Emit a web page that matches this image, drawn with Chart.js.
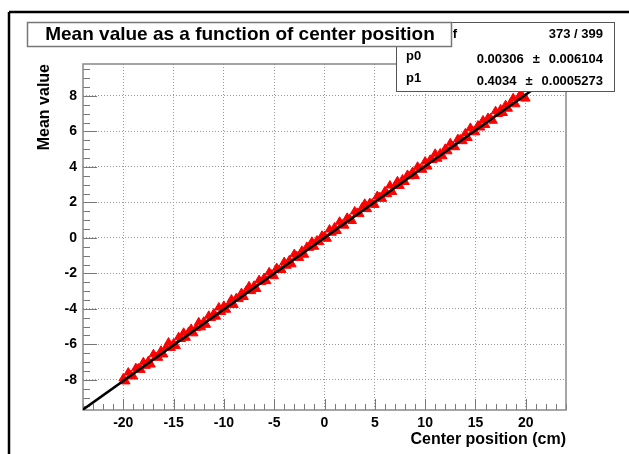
<!DOCTYPE html>
<html>
<head>
<meta charset="utf-8">
<script src="https://cdn.jsdelivr.net/npm/chart.js@4.4.1/dist/chart.umd.min.js"></script>
<style>
  html, body { margin: 0; padding: 0; background: #fff; }
  #wrap { width: 629px; height: 454px; }
</style>
</head>
<body>
<div id="wrap"><canvas id="profile" width="629" height="454"></canvas></div>
<script>
// profile bins: center position (cm) and mean value in each bin
const positions = [
  -20, -19.75, -19.5, -19.25, -19, -18.75, -18.5, -18.25,
  -18, -17.75, -17.5, -17.25, -17, -16.75, -16.5, -16.25,
  -16, -15.75, -15.5, -15.25, -15, -14.75, -14.5, -14.25,
  -14, -13.75, -13.5, -13.25, -13, -12.75, -12.5, -12.25,
  -12, -11.75, -11.5, -11.25, -11, -10.75, -10.5, -10.25,
  -10, -9.75, -9.5, -9.25, -9, -8.75, -8.5, -8.25,
  -8, -7.75, -7.5, -7.25, -7, -6.75, -6.5, -6.25,
  -6, -5.75, -5.5, -5.25, -5, -4.75, -4.5, -4.25,
  -4, -3.75, -3.5, -3.25, -3, -2.75, -2.5, -2.25,
  -2, -1.75, -1.5, -1.25, -1, -0.75, -0.5, -0.25,
  0, 0.25, 0.5, 0.75, 1, 1.25, 1.5, 1.75,
  2, 2.25, 2.5, 2.75, 3, 3.25, 3.5, 3.75,
  4, 4.25, 4.5, 4.75, 5, 5.25, 5.5, 5.75,
  6, 6.25, 6.5, 6.75, 7, 7.25, 7.5, 7.75,
  8, 8.25, 8.5, 8.75, 9, 9.25, 9.5, 9.75,
  10, 10.25, 10.5, 10.75, 11, 11.25, 11.5, 11.75,
  12, 12.25, 12.5, 12.75, 13, 13.25, 13.5, 13.75,
  14, 14.25, 14.5, 14.75, 15, 15.25, 15.5, 15.75,
  16, 16.25, 16.5, 16.75, 17, 17.25, 17.5, 17.75,
  18, 18.25, 18.5, 18.75, 19, 19.25, 19.5, 19.75,
  20
];
const meanValues = [
  -7.92, -8.09, -7.59, -7.75, -7.81, -7.34, -7.36, -7.44,
  -7.01, -7.21, -6.94, -7.14, -6.56, -6.71, -6.76, -6.36,
  -6.57, -6.17, -5.90, -6.20, -5.95, -6.10, -5.60, -5.70,
  -5.35, -5.63, -5.30, -5.13, -5.38, -5.08, -4.76, -5.04,
  -4.72, -4.90, -4.39, -4.52, -4.26, -4.44, -3.92, -4.18,
  -3.83, -4.05, -3.75, -3.47, -3.78, -3.39, -3.45, -3.11,
  -3.33, -2.95, -2.73, -3.00, -2.70, -2.88, -2.38, -2.48,
  -2.26, -2.44, -1.94, -2.07, -2.16, -1.70, -1.80, -1.81,
  -1.36, -1.57, -1.27, -1.49, -0.91, -1.03, -1.13, -0.73,
  -0.95, -0.51, -0.56, -0.22, -0.50, -0.15, -0.24, 0.12,
  0.10, -0.05, 0.47, 0.29, 0.59, 0.39, 0.91, 0.76,
  0.69, 1.13, 1.07, 0.95, 1.49, 1.41, 1.34, 1.72,
  1.92, 1.62, 1.96, 1.94, 1.86, 2.36, 2.30, 2.20,
  2.62, 2.46, 2.95, 2.59, 2.93, 3.19, 2.93, 3.29,
  3.15, 3.55, 3.47, 3.71, 3.49, 4.01, 3.90, 3.84,
  4.30, 4.02, 4.40, 4.38, 4.74, 4.46, 4.76, 4.60,
  5.02, 4.88, 5.33, 5.17, 5.11, 5.57, 5.55, 5.45,
  5.89, 5.63, 6.20, 6.01, 5.95, 6.33, 6.22, 6.62,
  6.36, 6.76, 6.74, 6.60, 7.14, 6.98, 7.24, 7.04,
  7.48, 7.28, 7.61, 7.87, 7.53, 7.87, 8.13, 7.91,
  7.85
];

const xTickValues = [-20, -15, -10, -5, 0, 5, 10, 15, 20];
const yTickValues = [-8, -6, -4, -2, 0, 2, 4, 6, 8];

// linear fit pol1: p0 + p1*x
const fitP0 = 0.00306;
const fitP1 = 0.4034;
const fitRange = [-24, 24];

const statsLabels = ["\u03C7\u00B2 / ndf", "p0", "p1"];
const statsValues = [["373 / 399"], ["0.00306", "0.006104"], ["0.4034", "0.0005273"]];
const plotTitle = "Mean value as a function of center position";

const FONT = '"Liberation Sans", Arial, Helvetica, sans-serif';

const points = positions.map((x, i) => ({ x: x, y: meanValues[i] }));
const fitLine = fitRange.map(x => ({ x: x, y: fitP0 + fitP1 * x }));

function seg(ctx, x1, y1, x2, y2) {
  ctx.beginPath();
  ctx.moveTo(x1, y1);
  ctx.lineTo(x2, y2);
  ctx.stroke();
}

const rootStyle = {
  id: 'rootStyle',
  beforeDraw(chart) {
    const ctx = chart.ctx;
    ctx.save();
    ctx.fillStyle = '#fff';
    ctx.fillRect(0, 0, chart.width, chart.height);
    ctx.restore();
  },
  beforeDatasetsDraw(chart) {
    const { ctx, chartArea: a, scales: { x, y } } = chart;
    ctx.save();
    ctx.strokeStyle = '#777';
    ctx.lineWidth = 1;
    // minor / major ticks along x, every 1 cm
    for (let v = -24; v <= 24; v++) {
      const px = Math.round(x.getPixelForValue(v)) + 0.5;
      seg(ctx, px, a.bottom, px, a.bottom - (v % 5 === 0 ? 11 : 6));
    }
    // ticks along y, every 0.5
    for (let k = -19; k <= 19; k++) {
      const py = Math.round(y.getPixelForValue(k / 2)) + 0.5;
      seg(ctx, a.left, py, a.left + (k % 4 === 0 ? 14 : 7), py);
    }
    // frame
    ctx.strokeStyle = '#888';
    ctx.lineWidth = 1.5;
    ctx.strokeRect(a.left, a.top, a.right - a.left, a.bottom - a.top);
    ctx.restore();
  },
  afterDraw(chart) {
    const ctx = chart.ctx;
    ctx.save();

    // fit statistics box
    ctx.fillStyle = '#fff';
    ctx.fillRect(396, 22, 218, 69);
    ctx.strokeStyle = '#555';
    ctx.lineWidth = 1;
    ctx.strokeRect(396.5, 22.5, 218, 69);
    ctx.fillStyle = '#000';
    ctx.font = 'bold 13px ' + FONT;
    ctx.textBaseline = 'middle';
    const rowY = [34, 59, 81];
    const labelY = [34, 56, 78];
    statsLabels.forEach((lab, i) => {
      ctx.textAlign = i === 0 ? 'right' : 'left';
      ctx.fillText(lab, i === 0 ? 457 : 406, labelY[i]);
      const v = statsValues[i];
      ctx.textAlign = 'right';
      if (v.length === 1) {
        ctx.fillText(v[0], 603, rowY[i]);
      } else {
        const errW = ctx.measureText(v[1]).width;
        const pmRight = 603 - errW - 9;
        ctx.fillText(v[1], 603, rowY[i]);
        ctx.fillText('\u00B1', pmRight, rowY[i]);
        ctx.fillText(v[0], pmRight - ctx.measureText('\u00B1').width - 9, rowY[i]);
      }
    });

    // title box
    ctx.fillStyle = '#fff';
    ctx.fillRect(27, 22, 424, 24);
    ctx.strokeStyle = '#777';
    ctx.lineWidth = 1.5;
    ctx.strokeRect(27.5, 22.5, 424, 24);
    ctx.fillStyle = '#000';
    ctx.font = 'bold 19px ' + FONT;
    ctx.textAlign = 'center';
    ctx.fillText(plotTitle, 240, 35);

    // canvas border
    ctx.strokeStyle = '#000';
    ctx.lineWidth = 2.5;
    seg(ctx, 9, 12, 640, 12);
    seg(ctx, 9, 12, 9, 460);
    ctx.restore();
  }
};

new Chart(document.getElementById('profile'), {
  data: {
    datasets: [
      {
        type: 'line',
        label: 'fit',
        data: fitLine,
        borderColor: '#000',
        borderWidth: 2.5,
        pointRadius: 0,
        order: 0
      },
      {
        type: 'scatter',
        label: 'profile',
        data: points,
        pointStyle: 'triangle',
        pointRadius: 5,
        backgroundColor: '#ff0000',
        borderColor: '#ff0000',
        borderWidth: 1,
        order: 1
      }
    ]
  },
  options: {
    responsive: false,
    animation: false,
    devicePixelRatio: 1,
    layout: { padding: { left: 0, top: 64, right: 63, bottom: 0 } },
    plugins: { legend: { display: false }, tooltip: { enabled: false } },
    scales: {
      x: {
        type: 'linear',
        min: -24,
        max: 24,
        afterBuildTicks: s => { s.ticks = xTickValues.map(v => ({ value: v })); },
        afterFit: s => { s.height = 44; },
        grid: { color: '#999', lineWidth: 1, drawTicks: false },
        border: { display: false, dash: [1, 2] },
        ticks: {
          color: '#000',
          padding: 5,
          maxRotation: 0,
          font: { family: FONT, size: 14, weight: 'bold' }
        },
        title: {
          display: true,
          text: 'Center position (cm)',
          align: 'end',
          color: '#000',
          padding: { top: 0, bottom: 5 },
          font: { family: FONT, size: 16, weight: 'bold' }
        }
      },
      y: {
        type: 'linear',
        min: -9.7,
        max: 9.8,
        afterBuildTicks: s => { s.ticks = yTickValues.map(v => ({ value: v })); },
        afterFit: s => { s.width = 83; },
        grid: { color: '#999', lineWidth: 1, drawTicks: false },
        border: { display: false, dash: [1, 2] },
        ticks: {
          color: '#000',
          padding: 6,
          font: { family: FONT, size: 14, weight: 'bold' }
        },
        title: {
          display: true,
          text: 'Mean value',
          align: 'end',
          color: '#000',
          padding: { top: 35, bottom: 0 },
          font: { family: FONT, size: 16, weight: 'bold' }
        }
      }
    }
  },
  plugins: [rootStyle]
});
</script>
</body>
</html>
